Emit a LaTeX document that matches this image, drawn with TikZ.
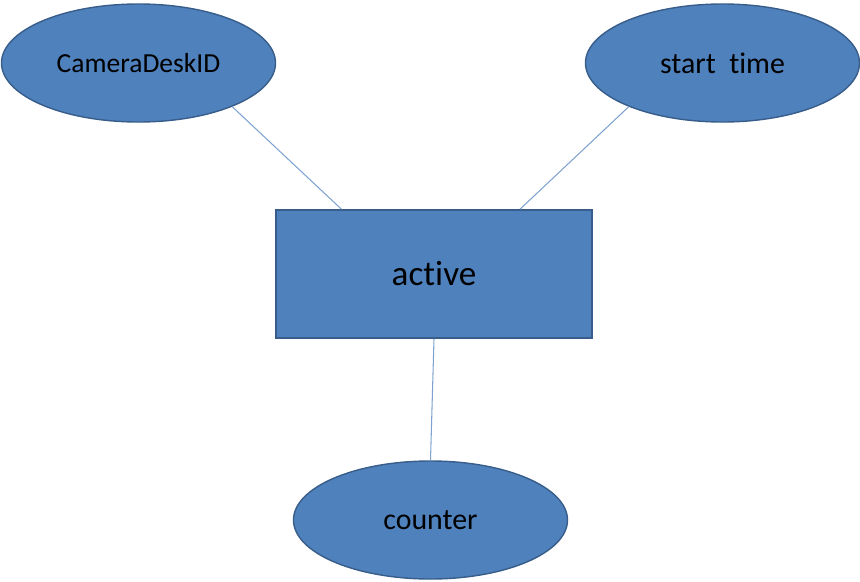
\documentclass[tikz,border=0pt]{standalone}
\usepackage{fontspec}
\setmainfont{Carlito}[Ligatures=NoCommon]
\usepackage{tikz}
\usetikzlibrary{shapes.geometric}

\definecolor{boxfill}{HTML}{4F81BD}
\definecolor{boxline}{HTML}{385D8A}
\definecolor{linkcol}{HTML}{7FA3D0}

\tikzset{
  attr/.style={ellipse, draw=boxline, fill=boxfill, line width=1.2pt,
    inner sep=0pt, minimum width=8.22cm, minimum height=3.54cm,
    font=\fontsize{25.5}{30}\selectfont},
  entity/.style={rectangle, draw=boxline, fill=boxfill, line width=1.4pt,
    inner sep=0pt, minimum width=9.48cm, minimum height=3.84cm,
    font=\fontsize{30}{34}\selectfont},
  link/.style={draw=linkcol, line width=0.9pt}
}

\begin{document}
\begin{tikzpicture}[x=0.03cm,y=-0.03cm]
        \useasboundingbox (0,0) rectangle (860,581);

        \node (act) [entity] at (434,274) {active};
        \node (cam) [attr] at (138.5,63) {\fontsize{23.5}{28}\selectfont CameraDeskID};
        \node (start) [attr] at (722.5,63) {start\ \ time};
        \node (cnt) [attr] at (430.5,520) {counter};

        \path[link]
        (cam.-25) edge (act.145)

        (start.-155.5) edge (act.37.6)

        (act.south) edge (cnt.north)
        ;
\end{tikzpicture}
\end{document}
